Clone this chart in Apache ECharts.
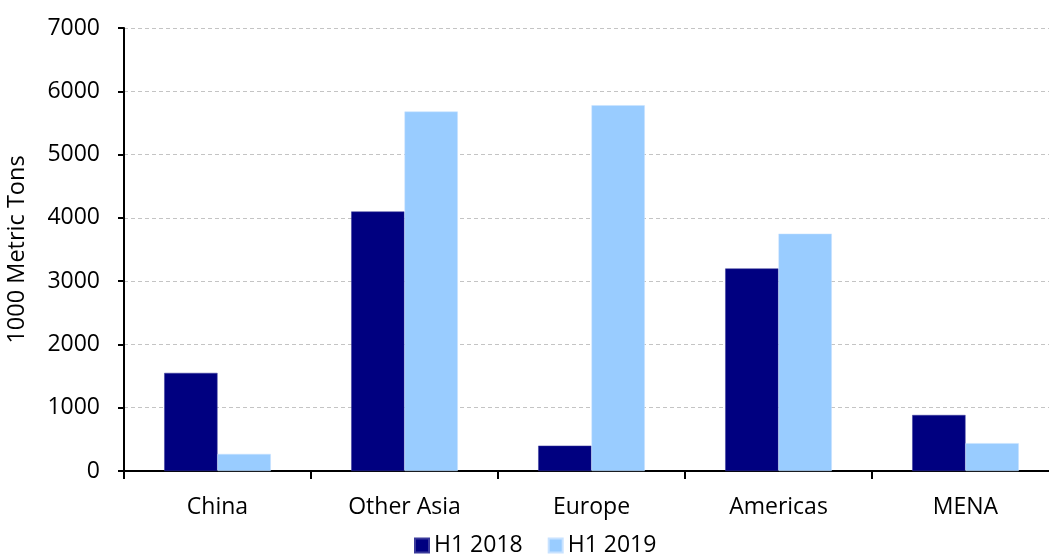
<!DOCTYPE html>
<html>
<head>
<meta charset="utf-8">
<style>html,body{margin:0;padding:0;background:#fff;}#chart{width:1049px;height:554px;}</style>
<script src="https://cdn.jsdelivr.net/npm/echarts@6/dist/echarts.min.js"></script>
</head>
<body>
<div id="chart"></div>
<script>
const categories = ['China', 'Other Asia', 'Europe', 'Americas', 'MENA'];
const seriesNames = ['H1 2018', 'H1 2019'];
const h1_2018 = [1550, 4100, 400, 3200, 885];
const h1_2019 = [270, 5680, 5780, 3750, 440];
const yTicks = [0, 1000, 2000, 3000, 4000, 5000, 6000, 7000];

const FONT = 'Open Sans';
const chart = echarts.init(document.getElementById('chart'), null, {renderer: 'canvas'});
chart.setOption({
  animation: false,
  backgroundColor: '#fff',
  textStyle: {fontFamily: FONT, color: '#000'},
  grid: {left: 124, top: 28, right: -10, bottom: 83, containLabel: false, outerBoundsMode: 'none'},
  legend: {
    data: seriesNames,
    left: 409, top: 529,
    itemWidth: 14, itemHeight: 14, itemGap: 25,
    icon: 'rect',
    textStyle: {fontFamily: FONT, fontSize: 23, color: '#000'}
  },
  xAxis: {
    type: 'category',
    data: categories,
    axisLine: {lineStyle: {color: '#000', width: 2}},
    axisTick: {show: true, length: 8, lineStyle: {color: '#000', width: 2}, alignWithLabel: false},
    axisLabel: {fontFamily: FONT, fontSize: 23, color: '#000', margin: 25},
    splitLine: {show: false}
  },
  yAxis: {
    type: 'value',
    min: yTicks[0], max: yTicks[yTicks.length - 1], interval: 1000,
    name: '1000 Metric Tons',
    nameLocation: 'middle',
    nameGap: 95,
    nameRotate: 90,
    nameTextStyle: {fontFamily: FONT, fontSize: 23.5, color: '#000'},
    axisLine: {show: true, lineStyle: {color: '#000', width: 2}},
    axisTick: {show: true, length: 6, lineStyle: {color: '#000', width: 2}},
    axisLabel: {fontFamily: FONT, fontSize: 23, color: '#000', margin: 24,
      formatter: function (v) { return String(v); }},
    splitLine: {show: true, lineStyle: {color: '#c4c4c4', type: [4, 3], width: 1}}
  },
  series: [
    {
      name: seriesNames[0], type: 'bar', data: h1_2018,
      barGap: '0%', barCategoryGap: '43%',
      itemStyle: {color: '#000080', borderColor: '#3a3a9a', borderWidth: 0.5}
    },
    {
      name: seriesNames[1], type: 'bar', data: h1_2019,
      itemStyle: {color: '#99ccff', borderColor: '#c8e2ff', borderWidth: 0.5}
    }
  ]
});
</script>
</body>
</html>
